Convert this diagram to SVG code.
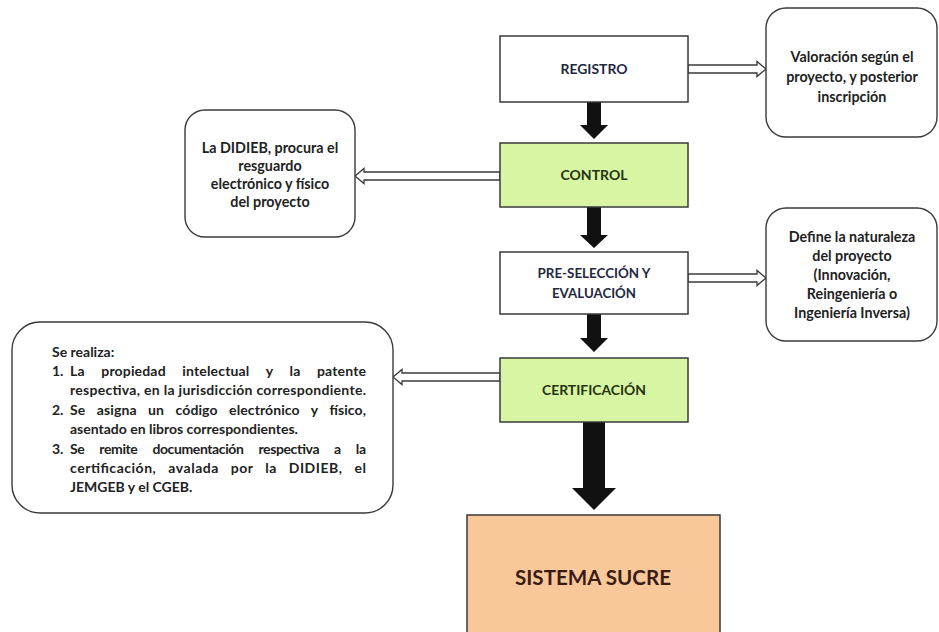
<svg xmlns="http://www.w3.org/2000/svg" width="939" height="632" viewBox="0 0 939 632">
<style>
  text { font-family: Lato, "Open Sans", "Liberation Sans", sans-serif; font-weight: 700; fill: #222; }
  .box { stroke: #3a3a3a; stroke-width: 1.5; }
  .white { fill: #ffffff; }
  .green { fill: #d8f5a4; }
  .peach { fill: #f9c89a; }
  .note { fill: #ffffff; stroke: #3a3a3a; stroke-width: 1.4; }
  .lbl { font-size: 13px; text-anchor: middle; fill: #1f2840; }
  .glbl { font-size: 13px; text-anchor: middle; fill: #24330f; }
  .nt { font-size: 14.3px; text-anchor: middle; }
  .lt { font-size: 14px; }
  .solid { fill: #111111; }
  .hollow { fill: #ffffff; stroke: #3a3a3a; stroke-width: 1.3; stroke-linejoin: miter; }
</style>
<rect width="939" height="632" fill="#ffffff"/>

<g id="connectors">
  <polygon class="solid" points="587,102 601,102 601,125 608,125 594,139 580,125 587,125"/>
  <polygon class="solid" points="587,207 601,207 601,235 608,235 594,248 580,235 587,235"/>
  <polygon class="solid" points="587,314 601,314 601,338 608,338 594,352 580,338 587,338"/>
  <polygon class="solid" points="583,422 605,422 605,488 616,488 594,510 572,488 583,488"/>
  <path class="hollow" d="M688,65 H757 V61.5 L766,69 L757,76.5 V73 H688 Z"/>
  <path class="hollow" d="M500,172 H364 V168.5 L355,176 L364,183.5 V180 H500 Z"/>
  <path class="hollow" d="M688,274 H757 V270.5 L766,278 L757,285.5 V282 H688 Z"/>
  <path class="hollow" d="M500,373 H402 V369.5 L393,377 L402,384.5 V381 H500 Z"/>
</g>

<g id="registro">
  <rect class="box white" x="500" y="36" width="188" height="66"/>
  <text class="lbl" x="594" y="74" textLength="67" lengthAdjust="spacingAndGlyphs">REGISTRO</text>
</g>
<g id="control">
  <rect class="box green" x="500" y="143" width="188" height="64"/>
  <text class="glbl" x="594" y="180" textLength="67" lengthAdjust="spacingAndGlyphs">CONTROL</text>
</g>
<g id="preseleccion">
  <rect class="box white" x="500" y="252" width="188" height="62"/>
  <text class="lbl" x="594" y="278" textLength="113" lengthAdjust="spacingAndGlyphs">PRE-SELECCIÓN Y</text>
  <text class="lbl" x="594" y="298" textLength="84" lengthAdjust="spacingAndGlyphs">EVALUACIÓN</text>
</g>
<g id="certificacion">
  <rect class="box green" x="500" y="358" width="188" height="64"/>
  <text class="glbl" x="594" y="395" textLength="104" lengthAdjust="spacingAndGlyphs">CERTIFICACIÓN</text>
</g>
<g id="sistema-sucre">
  <rect class="box peach" x="467" y="515" width="253" height="130"/>
  <text x="593" y="585" textLength="156" lengthAdjust="spacingAndGlyphs" style="font-size:21px;text-anchor:middle;fill:#3a1c14">SISTEMA SUCRE</text>
</g>

<g id="valoracion">
  <rect class="note" x="766" y="8" width="171" height="129" rx="20"/>
  <text class="nt" x="852" y="62">Valoración según el</text>
  <text class="nt" x="852" y="82">proyecto, y posterior</text>
  <text class="nt" x="852" y="102">inscripción</text>
</g>
<g id="didieb">
  <rect class="note" x="185" y="110" width="170" height="127" rx="20"/>
  <text class="nt" x="270" y="153">La DIDIEB, procura el</text>
  <text class="nt" x="270" y="171">resguardo</text>
  <text class="nt" x="270" y="189">electrónico y físico</text>
  <text class="nt" x="270" y="207">del proyecto</text>
</g>
<g id="define">
  <rect class="note" x="766" y="208" width="171" height="133" rx="20"/>
  <text class="nt" x="852" y="242">Define la naturaleza</text>
  <text class="nt" x="852" y="261">del proyecto</text>
  <text class="nt" x="852" y="280">(Innovación,</text>
  <text class="nt" x="852" y="299">Reingeniería o</text>
  <text class="nt" x="852" y="318">Ingeniería Inversa)</text>
</g>
<g id="se-realiza">
  <rect class="note" x="12" y="322" width="381" height="191" rx="28"/>
  <text class="lt" x="52" y="357">Se realiza:</text>
  <text class="lt" x="52" y="376">1.</text>
  <text class="lt" x="70" y="376" style="word-spacing:13px" textLength="296" lengthAdjust="spacing">La propiedad intelectual y la patente</text>
  <text class="lt" x="70" y="395" textLength="296" lengthAdjust="spacing">respectiva, en la jurisdicción correspondiente.</text>
  <text class="lt" x="52" y="415">2.</text>
  <text class="lt" x="70" y="415" style="word-spacing:8px" textLength="296" lengthAdjust="spacing">Se asigna un código electrónico y físico,</text>
  <text class="lt" x="70" y="434">asentado en libros correspondientes.</text>
  <text class="lt" x="52" y="454">3.</text>
  <text class="lt" x="70" y="454" style="word-spacing:12px" textLength="296" lengthAdjust="spacing">Se remite documentación respectiva a la</text>
  <text class="lt" x="70" y="473" style="word-spacing:8px" textLength="296" lengthAdjust="spacing">certificación, avalada por la DIDIEB, el</text>
  <text class="lt" x="70" y="492">JEMGEB y el CGEB.</text>
</g>
</svg>
